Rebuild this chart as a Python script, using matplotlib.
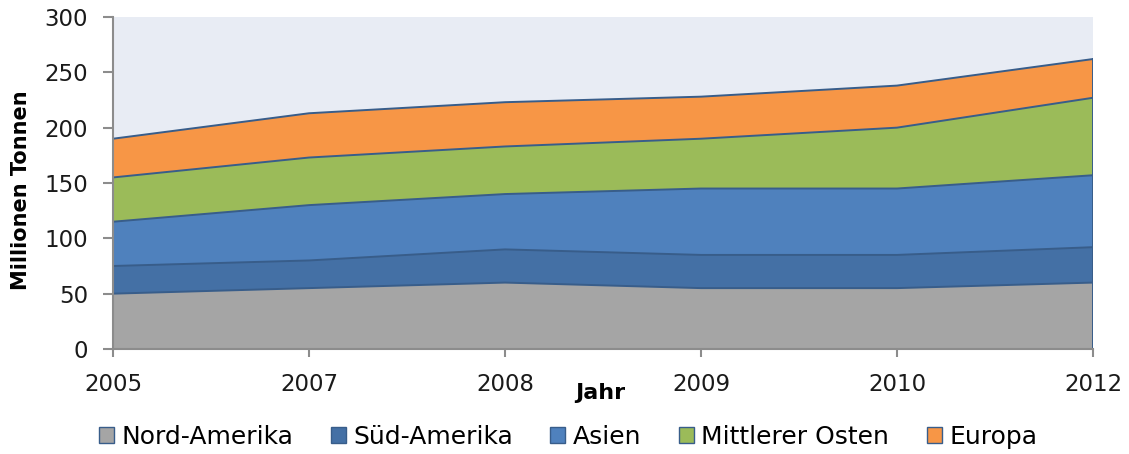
import matplotlib
matplotlib.use('Agg')
import matplotlib.pyplot as plt
import numpy as np
from matplotlib.patches import Patch

# Data (Millionen Tonnen per region, stacked)
years = ['2005', '2007', '2008', '2009', '2010', '2012']
nord_amerika = [50, 55, 60, 55, 55, 60]
sued_amerika = [25, 25, 30, 30, 30, 32]
asien = [40, 50, 50, 60, 60, 65]
mittlerer_osten = [40, 43, 43, 45, 55, 70]
europa = [35, 40, 40, 38, 38, 35]

labels = ['Nord-Amerika', 'Süd-Amerika', 'Asien', 'Mittlerer Osten', 'Europa']
colors = ['#A5A5A5', '#4470A5', '#4F81BD', '#9BBB59', '#F79646']
edge = '#385D8A'

plt.rcParams['font.family'] = ['DejaVu Sans']

fig = plt.figure(figsize=(11.29, 4.54), dpi=100)
ax = fig.add_axes([0.1001, 0.2313, 0.868, 0.7313])
ax.set_facecolor('#E8ECF4')

x = np.arange(len(years))
series = [nord_amerika, sued_amerika, asien, mittlerer_osten, europa]
base = np.zeros(len(years))
for vals, col in zip(series, colors):
    top = base + np.array(vals)
    ax.fill_between(x, base, top, facecolor=col, edgecolor='none', zorder=2)
    ax.plot(x, top, color=edge, lw=1.4, zorder=3)
    base = top
ax.plot([x[-1], x[-1]], [0, base[-1]], color=edge, lw=1.4, zorder=3)

ax.set_xlim(0, len(years) - 1)
ax.set_ylim(0, 300)
ax.set_yticks(range(0, 301, 50))
ax.set_xticks(x)
ax.set_xticklabels(years)

for s in ['top', 'right']:
    ax.spines[s].set_visible(False)
for s in ['left', 'bottom']:
    ax.spines[s].set_color('#8C8C8C')
    ax.spines[s].set_linewidth(1.5)
    ax.spines[s].set_zorder(4)

ax.tick_params(axis='y', length=7, width=1.5, color='#8C8C8C', pad=11,
               labelsize=16.5, labelcolor='#1A1A1A')
ax.tick_params(axis='x', length=6, width=1.5, color='#8C8C8C', pad=11,
               labelsize=16.5, labelcolor='#1A1A1A')

ax.set_ylabel('Millionen Tonnen', fontsize=15, fontweight='bold')
ax.yaxis.set_label_coords(-0.084, 0.479)
ax.set_xlabel('Jahr', fontsize=16, fontweight='bold')
ax.xaxis.set_label_coords(0.497, -0.102)

handles = [Patch(facecolor=c, edgecolor=edge, lw=1.0) for c in colors]
fig.legend(handles, labels, loc='center', bbox_to_anchor=(0.503, 0.037), ncol=5,
           frameon=False, fontsize=18, handlelength=0.6, handleheight=0.6,
           handletextpad=0.3, columnspacing=1.5)

fig.savefig('out.png', dpi=100)
